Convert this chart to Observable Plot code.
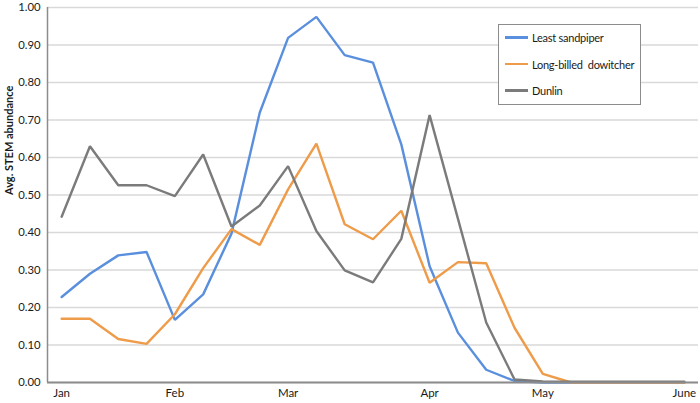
<!DOCTYPE html>
<html>
<head>
<meta charset="utf-8">
<script src="https://cdn.jsdelivr.net/npm/d3@7"></script>
<script src="https://cdn.jsdelivr.net/npm/@observablehq/plot@0.6"></script>
<style>
  html, body { margin: 0; padding: 0; background: #fff; }
  #wrap { position: relative; width: 700px; height: 403px; font-family: Lato, "Open Sans", sans-serif; }
  #legend { position: absolute; left: 498px; top: 24px; width: 143px; height: 81px; border: 1px solid #8c8c8c; background: #fff; box-sizing: border-box; font-size: 11px; letter-spacing: -0.25px; color: #1a1a1a; }
  .item { position: absolute; left: 6px; display: flex; align-items: center; white-space: pre; }
  .sw { width: 23px; height: 2.5px; margin-right: 4px; }
</style>
</head>
<body>
<div id="wrap"><div id="legend"></div></div>
<script>
const week = [0,1,2,3,4,5,6,7,8,9,10,11,12,13,14,15,16,17,18,19,20,21,22];
const tickWeeks = [0, 4, 8, 13, 17, 22];
const tickLabels = ["Jan", "Feb", "Mar", "Apr", "May", "June"];
const seriesNames = ["Least sandpiper", "Long-billed  dowitcher", "Dunlin"];
const seriesColors = ["#5a8fdd", "#ee9b4a", "#7b7b7b"];
const leastSandpiper = [0.228,0.290,0.339,0.348,0.167,0.235,0.397,0.720,0.919,0.975,0.873,0.853,0.635,0.310,0.133,0.034,0.004,0,0,0,0,0,0];
const dowitcher = [0.170,0.170,0.116,0.103,0.182,0.305,0.409,0.367,0.515,0.637,0.422,0.382,0.458,0.266,0.321,0.318,0.146,0.023,0,0,0,0,0];
const dunlin = [0.442,0.630,0.526,0.526,0.497,0.608,0.416,0.472,0.577,0.404,0.299,0.267,0.383,0.713,0.437,0.160,0.008,0.003,0.002,0.002,0.002,0.002,0.002];
const yTicks = [0,0.1,0.2,0.3,0.4,0.5,0.6,0.7,0.8,0.9,1.0];
const yTitle = "Avg. STEM abundance";

const values = [leastSandpiper, dowitcher, dunlin];
const data = [];
values.forEach((arr, s) => arr.forEach((v, i) => data.push({week: week[i], value: v, series: seriesNames[s]})));

const chart = Plot.plot({
  width: 700,
  height: 403,
  marginLeft: 47,
  marginRight: 2,
  marginTop: 7,
  marginBottom: 21,
  style: {fontFamily: "Lato, 'Open Sans', sans-serif", fontSize: "11px", color: "#1a1a1a", background: "#fff", overflow: "visible"},
  x: {domain: [week[0] - 0.5, week[week.length - 1] + 0.5]},
  y: {domain: [0, 1]},
  color: {domain: seriesNames, range: seriesColors},
  marks: [
    Plot.gridY(yTicks, {stroke: "#d9d9d9", strokeOpacity: 1, strokeWidth: 1.3}),
    Plot.axisY(yTicks, {tickSize: 0, tickPadding: 7, tickFormat: d3.format(".2f"), label: null, fontSize: 11.3}),
    Plot.axisX(tickWeeks, {tickSize: 0, tickPadding: 6, tickFormat: (d) => tickLabels[tickWeeks.indexOf(d)], label: null, fontSize: 11.5}),
    Plot.text([yTitle], {frameAnchor: "left", rotate: -90, dx: -38, fontWeight: "bold", fontSize: 11}),
    Plot.ruleX([week[0] - 0.5], {stroke: "#8c8c8c", strokeWidth: 1.5}),
    Plot.line(data, {x: "week", y: "value", z: "series", stroke: "series", strokeWidth: 2.4, strokeLinejoin: "miter"}),
    Plot.ruleY([0], {stroke: "#8c8c8c", strokeWidth: 1.8})
  ]
});
document.getElementById("wrap").prepend(chart);

const legend = document.getElementById("legend");
seriesNames.forEach((n, i) => {
  const d = document.createElement("div");
  d.className = "item";
  d.style.top = (6 + i * 26.5) + "px";
  const sw = document.createElement("span");
  sw.className = "sw";
  sw.style.background = seriesColors[i];
  const t = document.createElement("span");
  t.textContent = n;
  d.appendChild(sw);
  d.appendChild(t);
  legend.appendChild(d);
});
</script>
</body>
</html>
